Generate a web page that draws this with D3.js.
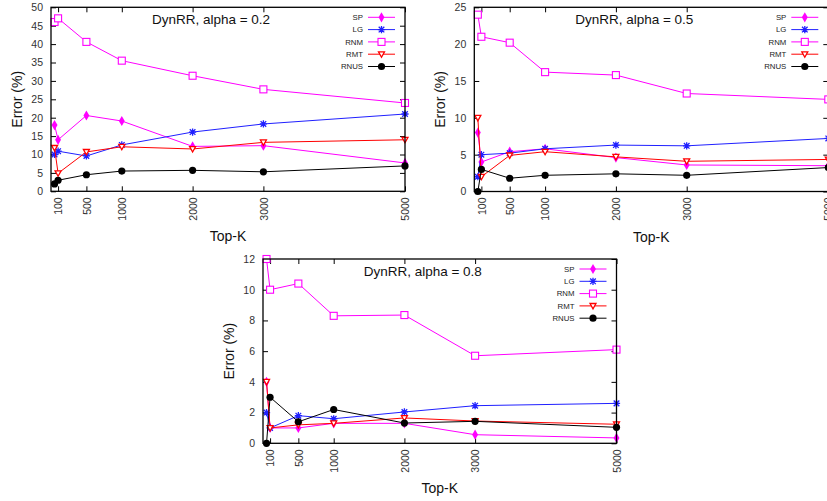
<!DOCTYPE html>
<html><head><meta charset="utf-8">
<script src="https://cdn.jsdelivr.net/npm/d3@7"></script>
<style>body{margin:0;background:#fff}svg{display:block;font-family:"Liberation Sans",Arial,sans-serif}</style>
</head><body><svg id="c" width="827" height="501"></svg>
<script>
const topK = [50, 100, 500, 1000, 2000, 3000, 5000];
const xTicks = [100, 500, 1000, 2000, 3000, 5000];
const seriesNames = ["SP", "LG", "RNM", "RMT", "RNUS"];
const titles = ["DynRR, alpha = 0.2", "DynRR, alpha = 0.5", "DynRR, alpha = 0.8"];
const yMaxes = [50, 25, 12];
const yTicks02 = [0,5,10,15,20,25,30,35,40,45,50];
const yTicks05 = [0,5,10,15,20,25];
const yTicks08 = [0,2,4,6,8,10,12];

// alpha = 0.2
const sp02   = [18.0, 14.0, 20.6, 19.1, 12.2, 12.4, 7.7];
const lg02   = [10.0, 10.9, 9.6, 12.6, 16.1, 18.3, 21.0];
const rnm02  = [46.0, 47.0, 40.6, 35.5, 31.4, 27.7, 24.0];
const rmt02  = [11.8, 4.9, 10.7, 12.1, 11.5, 13.3, 14.0];
const rnus02 = [2.0, 3.0, 4.5, 5.5, 5.7, 5.3, 6.9];
// alpha = 0.5
const sp05   = [8.0, 4.0, 5.4, 5.8, 4.6, 3.6, 3.5];
const lg05   = [2.0, 5.0, 5.2, 5.8, 6.3, 6.2, 7.2];
const rnm05  = [24.0, 21.0, 20.2, 16.2, 15.8, 13.3, 12.5];
const rmt05  = [10.0, 2.0, 4.9, 5.4, 4.7, 4.1, 4.35];
const rnus05 = [0.0, 3.0, 1.8, 2.2, 2.4, 2.2, 3.25];
// alpha = 0.8
const sp08   = [4.0, 1.0, 1.0, 1.3, 1.3, 0.56, 0.35];
const lg08   = [2.0, 1.0, 1.8, 1.6, 2.04, 2.45, 2.6];
const rnm08  = [12.0, 10.0, 10.4, 8.3, 8.35, 5.7, 6.1];
const rmt08  = [4.0, 1.0, 1.2, 1.3, 1.65, 1.45, 1.24];
const rnus08 = [0.0, 3.0, 1.4, 2.2, 1.32, 1.43, 1.04];

const panelData = [
  [sp02, lg02, rnm02, rmt02, rnus02],
  [sp05, lg05, rnm05, rmt05, rnus05],
  [sp08, lg08, rnm08, rmt08, rnus08]
];
const panelYTicks = [yTicks02, yTicks05, yTicks08];
const colors = ["#ff00ff", "#2020ff", "#ff00ff", "#ff0000", "#000000"];
const boxes = [
  {l: 51, r: 405, t: 7.3, b: 191.3},
  {l: 474.3, r: 828.3, t: 7.3, b: 191.5},
  {l: 263, r: 616.5, t: 259, b: 443.3}
];

const svg = d3.select("#c");

function marker(g, kind, x, y, col) {
  if (kind === 0) {
    g.append("path").attr("d", d3.symbol(d3.symbolDiamond, 30)()).attr("transform", `translate(${x},${y})`).attr("fill", col);
  } else if (kind === 1) {
    const s = 3.6, d = 2.8;
    g.append("path").attr("d", `M${x-s},${y}L${x+s},${y}M${x},${y-s}L${x},${y+s}M${x-d},${y-d}L${x+d},${y+d}M${x-d},${y+d}L${x+d},${y-d}`)
      .attr("stroke", col).attr("stroke-width", 1.3).attr("fill", "none");
  } else if (kind === 2) {
    g.append("rect").attr("x", x-3.5).attr("y", y-3.5).attr("width", 7).attr("height", 7)
      .attr("fill", "#fff").attr("stroke", col).attr("stroke-width", 1.1);
  } else if (kind === 3) {
    g.append("path").attr("d", `M${x-3},${y-2.4}L${x+3},${y-2.4}L${x},${y+3}Z`)
      .attr("fill", "#fff").attr("stroke", col).attr("stroke-width", 1.3);
  } else {
    g.append("circle").attr("cx", x).attr("cy", y).attr("r", 3.6).attr("fill", col);
  }
}

boxes.forEach((bx, p) => {
  const g = svg.append("g");
  const x = d3.scaleLinear().domain([0, 5000]).range([bx.l, bx.r]);
  const y = d3.scaleLinear().domain([0, yMaxes[p]]).range([bx.b, bx.t]);
  const tl = 5;

  g.append("g").attr("transform", `translate(${bx.l},0)`)
    .call(d3.axisLeft(y).tickValues(panelYTicks[p]).tickSize(-tl).tickPadding(8))
    .call(a => { a.select(".domain").remove(); a.selectAll("line").attr("stroke", "#000");
      a.selectAll("text").attr("font-size", 10.5).attr("fill", "#333"); });
  g.append("g").attr("transform", `translate(${bx.r},0)`)
    .call(d3.axisRight(y).tickValues(panelYTicks[p]).tickSize(-tl).tickFormat(""))
    .call(a => { a.select(".domain").remove(); a.selectAll("line").attr("stroke", "#000"); });
  g.append("g").attr("transform", `translate(0,${bx.b})`)
    .call(d3.axisBottom(x).tickValues(xTicks).tickSize(-tl).tickFormat(d3.format("d")))
    .call(a => { a.select(".domain").remove(); a.selectAll("line").attr("stroke", "#000");
      a.selectAll("text").attr("font-size", 10.5).attr("fill", "#333")
        .attr("transform", "rotate(-90)").attr("text-anchor", "end")
        .attr("x", -6).attr("y", 0).attr("dy", "0.35em"); });
  g.append("g").attr("transform", `translate(0,${bx.t})`)
    .call(d3.axisTop(x).tickValues(xTicks).tickSize(-tl).tickFormat(""))
    .call(a => { a.select(".domain").remove(); a.selectAll("line").attr("stroke", "#000"); });

  const line = d3.line().x((d, i) => x(topK[i])).y(d => y(d));
  panelData[p].forEach((vals, s) => {
    g.append("path").datum(vals).attr("d", line).attr("fill", "none")
      .attr("stroke", colors[s]).attr("stroke-width", 1);
    vals.forEach((v, i) => marker(g, s, x(topK[i]), y(v), colors[s]));
  });

  g.append("rect").attr("x", bx.l).attr("y", bx.t).attr("width", bx.r - bx.l).attr("height", bx.b - bx.t)
    .attr("fill", "none").attr("stroke", "#000").attr("stroke-width", 1.3);

  const cx = (bx.l + bx.r) / 2;
  g.append("text").attr("x", cx - 17).attr("y", bx.t + 16.5).attr("text-anchor", "middle")
    .attr("font-size", 13.5).attr("fill", "#111").text(titles[p]);
  seriesNames.forEach((nm, s) => {
    const ly = bx.t + 10 + s * 12.3;
    g.append("text").attr("x", bx.r - 42).attr("y", ly).attr("dy", "0.35em").attr("text-anchor", "end")
      .attr("font-size", 7.8).attr("fill", "#222").text(nm);
    g.append("line").attr("x1", bx.r - 37).attr("x2", bx.r - 10).attr("y1", ly).attr("y2", ly)
      .attr("stroke", colors[s]).attr("stroke-width", 1);
    marker(g, s, bx.r - 23.5, ly, colors[s]);
  });
  g.append("text").attr("transform", `translate(${bx.l - 34},${(bx.t + bx.b) / 2}) rotate(-90)`)
    .attr("text-anchor", "middle").attr("dy", "0.35em").attr("font-size", 14).attr("fill", "#111").text("Error (%)");
  g.append("text").attr("x", cx).attr("y", bx.b + 50).attr("text-anchor", "middle")
    .attr("font-size", 14).attr("fill", "#111").text("Top-K");
});
</script></body></html>
